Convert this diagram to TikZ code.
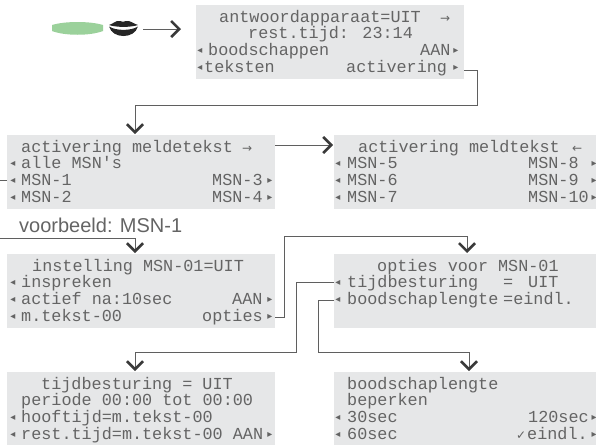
\documentclass[tikz,border=0pt]{standalone}
\usepackage{fontspec}
\setmainfont{Liberation Sans}
\newfontfamily\lcdfont{Liberation Mono}
\newfontfamily\symfont{DejaVu Sans}
\usetikzlibrary{arrows.meta}
\definecolor{boxgrey}{HTML}{E6E7E8}
\definecolor{lcdtext}{HTML}{646464}
\definecolor{linegrey}{HTML}{5F5F5F}
\definecolor{tipdark}{HTML}{3A3A3A}
\definecolor{leaf}{RGB}{155,209,155}
\tikzset{
  panel/.style={fill=boxgrey,draw=none,anchor=north west,inner sep=0pt,minimum width=268pt,minimum height=74pt},
  lcd/.style={anchor=base west,inner sep=0pt,text=lcdtext,font=\lcdfont\fontsize{16.8}{17}\selectfont},
  tri/.style={anchor=base,inner sep=0pt,yshift=2pt,text=lcdtext,font=\symfont\fontsize{10}{10}\selectfont},
  sym/.style={anchor=base west,inner sep=0pt,text=lcdtext,font=\symfont\fontsize{12}{12}\selectfont},
  conn/.style={draw=linegrey,line width=1pt},
  flow/.style={conn,shorten >=1pt,-{Straight Barb[length=8pt,width=16pt,line width=2.6pt,color=tipdark]}},
  caption/.style={anchor=base west,inner sep=0pt,text=lcdtext,font=\fontsize{20}{22}\selectfont}
}
\begin{document}
\begin{tikzpicture}[x=1pt,y=-1pt]
\useasboundingbox (0,0) rectangle (596,445);
% panels
\node[panel] (main) at (196,5) {};
\node[panel] (act) at (7,135) {};
\node[panel,minimum width=262pt] (act2) at (334,135) {};
\node[panel] (inst) at (7,254) {};
\node[panel,minimum width=262pt] (opt) at (334,254) {};
\node[panel,minimum height=73pt] (tijd) at (7,372) {};
\node[panel,minimum width=262pt,minimum height=73pt] (lengte) at (334,372) {};
% lips and green bar
\fill[leaf] (52,25) .. controls (65,21) and (90,21) .. (103,25) -- (103,31) .. controls (90,36) and (65,36) .. (52,31) -- cycle;
\fill[black!85] (109,25) .. controls (113,24) and (116,20) .. (120,21) .. controls (122,22) and (124,22) .. (126,21) .. controls (130,20) and (134,24) .. (138,25) .. controls (131,27.5) and (116,27.5) .. (109,25) -- cycle;
\fill[black!85] (109,26.5) .. controls (116,31) and (131,31) .. (138,26.5) .. controls (136,33) and (130,36) .. (123.5,36) .. controls (117,36) and (111,33) .. (109,26.5) -- cycle;
\coordinate (lipsout) at (143,29);
\coordinate (mainin) at (182,29);
% main
\node[lcd] (m1) at (219,22) {antwoordapparaat=UIT};
\node[sym] (m1a) at (440,22) {→};
\node[lcd] (m2) at (248,38.5) {rest.tijd: 23:14};
\node[tri] (m3l) at (200,55.5) {◂};
\node[lcd] (m3) at (208,55.5) {boodschappen};
\node[lcd] (m3r) at (420,55.5) {AAN};
\node[tri] (m3t) at (456,55.5) {▸};
\node[tri] (m4l) at (200,72.5) {◂};
\node[lcd] (m4) at (204,72.5) {teksten};
\node[lcd] (m4r) at (346,72.5) {activering};
\node[tri] (m4t) at (456,72.5) {▸};
% act
\node[lcd] (a1) at (21,152) {activering meldetekst};
\node[sym] (a1a) at (242,152) {→};
\node[tri] (a2l) at (13,168.5) {◂};
\node[lcd] (a2) at (21,168.5) {alle MSN's};
\node[tri] (a3l) at (13,185.5) {◂};
\node[lcd] (a3) at (21,185.5) {MSN-1};
\node[lcd] (a3r) at (212,185.5) {MSN-3};
\node[tri] (a3t) at (270,185.5) {▸};
\node[tri] (a4l) at (13,202) {◂};
\node[lcd] (a4) at (21,202) {MSN-2};
\node[lcd] (a4r) at (212,202) {MSN-4};
\node[tri] (a4t) at (270,202) {▸};
% act2
\node[lcd] (b1) at (358,152) {activering meldtekst};
\node[sym] (b1a) at (572,152) {←};
\node[tri] (b2l) at (338,168.5) {◂};
\node[lcd] (b2) at (347,168.5) {MSN-5};
\node[lcd] (b2r) at (528,168.5) {MSN-8};
\node[tri] (b2t) at (594,168.5) {▸};
\node[tri] (b3l) at (338,185.5) {◂};
\node[lcd] (b3) at (347,185.5) {MSN-6};
\node[lcd] (b3r) at (528,185.5) {MSN-9};
\node[tri] (b3t) at (594,185.5) {▸};
\node[tri] (b4l) at (338,202) {◂};
\node[lcd] (b4) at (347,202) {MSN-7};
\node[lcd] (b4r) at (528,202) {MSN-10};
\node[tri] (b4t) at (594,202) {▸};
% caption
\node[caption] (cap) at (19,232.5) {voorbeeld: MSN-1};
% inst
\node[lcd] (i1) at (32,271) {instelling MSN-01=UIT};
\node[tri] (i2l) at (13,287.5) {◂};
\node[lcd] (i2) at (21,287.5) {inspreken};
\node[tri] (i3l) at (13,304.5) {◂};
\node[lcd] (i3) at (21,304.5) {actief na:10sec};
\node[lcd] (i3r) at (232,304.5) {AAN};
\node[tri] (i3t) at (270,304.5) {▸};
\node[tri] (i4l) at (13,321) {◂};
\node[lcd] (i4) at (21,321) {m.tekst-00};
\node[lcd] (i4r) at (202,321) {opties};
\node[tri] (i4t) at (270,321) {▸};
% opt
\node[lcd] (o1) at (377,271) {opties voor MSN-01};
\node[tri] (o2l) at (338,287.5) {◂};
\node[lcd] (o2) at (347,287.5) {tijdbesturing};
\node[lcd] (o2r) at (503,287.5) {=};
\node[lcd] (o2v) at (528,287.5) {UIT};
\node[tri] (o3l) at (338,304.5) {◂};
\node[lcd] (o3) at (347,304.5) {boodschaplengte};
\node[lcd] (o3r) at (503,304.5) {=eindl.};
% tijd
\node[lcd] (t1) at (41,389) {tijdbesturing = UIT};
\node[lcd] (t2) at (21,405.5) {periode 00:00 tot 00:00};
\node[tri] (t3l) at (13,422.5) {◂};
\node[lcd] (t3) at (21,422.5) {hooftijd=m.tekst-00};
\node[tri] (t4l) at (13,439) {◂};
\node[lcd] (t4) at (21,439) {rest.tijd=m.tekst-00 AAN};
\node[tri] (t4t) at (270,439) {▸};
% lengte
\node[lcd] (l1) at (347,389) {boodschaplengte};
\node[lcd] (l2) at (347,405.5) {beperken};
\node[tri] (l3l) at (338,422.5) {◂};
\node[lcd] (l3) at (347,422.5) {30sec};
\node[lcd] (l3r) at (528,422.5) {120sec};
\node[tri] (l3t) at (594,422.5) {▸};
\node[tri] (l4l) at (338,439) {◂};
\node[lcd] (l4) at (347,439) {60sec};
\node[sym] (l4c) at (516,439) {✓};
\node[lcd] (l4r) at (527,439) {eindl.};
\node[tri] (l4t) at (594,439) {▸};
% free ends
\coordinate (offleft) at (0,238);
\coordinate (offleft2) at (0,180.5);
% connectors
\draw[flow] (lipsout) -- (mainin);
\draw[flow] (main.north east |- 0,70) -- (477,70) -- (477,105) -- (135,105) -- (act.north -| 135,0);
\draw[flow] (act.north east |- 0,145) -- (act2.north west |- 0,145);
\draw[conn] (offleft2) -- (act.north west |- 0,180.5);
\draw[flow] (offleft) -- (135,238) -- (inst.north -| 135,0);
\draw[flow] (inst.north east |- 0,317) -- (284,317) -- (284,236) -- (467,236) -- (opt.north -| 467,0);
\draw[flow] (opt.north west |- 0,282) -- (296,282) -- (296,352) -- (135,352) -- (tijd.north -| 135,0);
\draw[flow] (opt.north west |- 0,300) -- (318,300) -- (318,352) -- (469,352) -- (lengte.north -| 469,0);
\end{tikzpicture}
\end{document}
